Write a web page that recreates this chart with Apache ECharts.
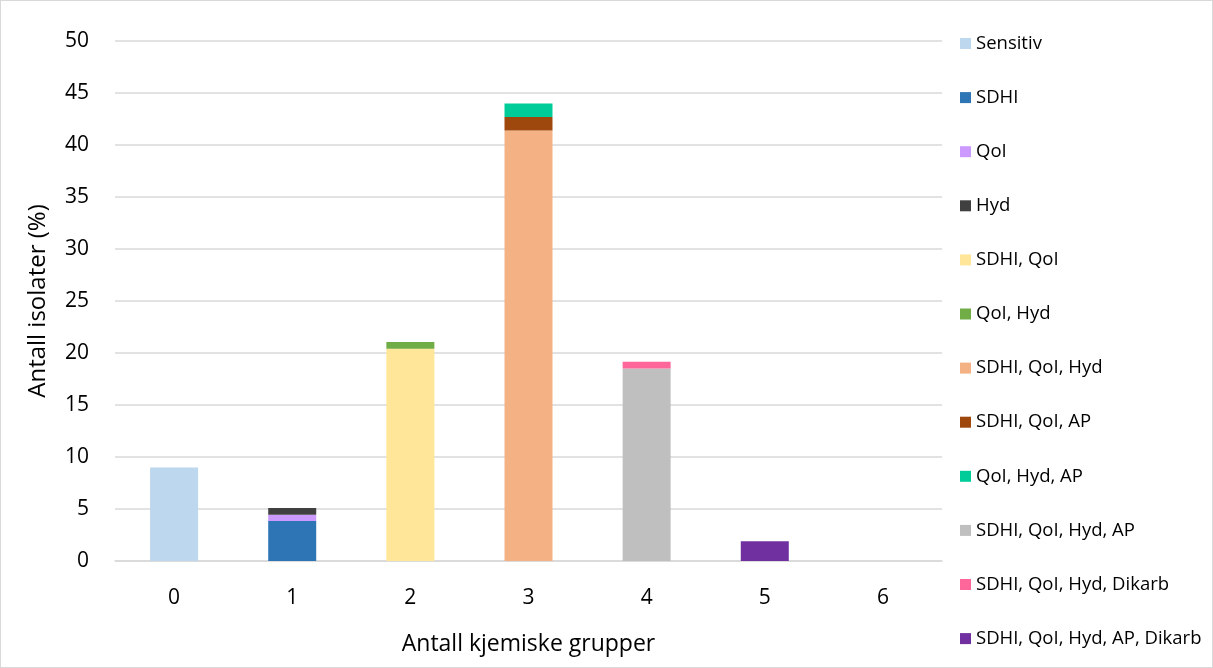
<!DOCTYPE html>
<html><head><meta charset="utf-8">
<script src="https://cdn.jsdelivr.net/npm/echarts@6/dist/echarts.min.js"></script>
<style>html,body{margin:0;padding:0;background:#fff}#c{width:1211px;height:666px;border:1px solid #d9d9d9}</style>
</head><body><div id="c"></div>
<script>
const categories = ['0','1','2','3','4','5','6'];
const seriesNames = ['Sensitiv','SDHI','QoI','Hyd','SDHI, QoI','QoI, Hyd','SDHI, QoI, Hyd','SDHI, QoI, AP','QoI, Hyd, AP','SDHI, QoI, Hyd, AP','SDHI, QoI, Hyd, Dikarb','SDHI, QoI, Hyd, AP, Dikarb'];
const sensitiv      = [9.0, null, null, null, null, null, null];
const sdhi          = [null, 3.85, null, null, null, null, null];
const qoi           = [null, 0.6, null, null, null, null, null];
const hyd           = [null, 0.65, null, null, null, null, null];
const sdhiQoi       = [null, null, 20.4, null, null, null, null];
const qoiHyd        = [null, null, 0.65, null, null, null, null];
const sdhiQoiHyd    = [null, null, null, 41.4, null, null, null];
const sdhiQoiAp     = [null, null, null, 1.3, null, null, null];
const qoiHydAp      = [null, null, null, 1.3, null, null, null];
const sdhiQoiHydAp  = [null, null, null, null, 18.5, null, null];
const sdhiQoiHydDik = [null, null, null, null, 0.65, null, null];
const allFive       = [null, null, null, null, null, 1.9, null];
const seriesData = [sensitiv, sdhi, qoi, hyd, sdhiQoi, qoiHyd, sdhiQoiHyd, sdhiQoiAp, qoiHydAp, sdhiQoiHydAp, sdhiQoiHydDik, allFive];
const colors = ['#bdd7ee','#2e75b6','#cc99ff','#404040','#ffe699','#70ad47','#f4b183','#9e480e','#00cc99','#bfbfbf','#ff6699','#7030a0'];
const yTicks = [0,5,10,15,20,25,30,35,40,45,50];

const chart = echarts.init(document.getElementById('c'));
chart.setOption({
  animation: false,
  textStyle: {fontFamily: 'Open Sans, Liberation Sans, sans-serif'},
  grid: {left: 114, right: 270, top: 40, bottom: 106, containLabel: false},
  xAxis: {
    type: 'category', data: categories,
    name: 'Antall kjemiske grupper', nameLocation: 'middle', nameGap: 72,
    nameTextStyle: {fontSize: 23, color: '#000'},
    axisLine: {lineStyle: {color: '#d9d9d9', width: 1.5}},
    axisTick: {show: false},
    axisLabel: {fontSize: 21, color: '#000', margin: 27}
  },
  yAxis: {
    type: 'value', min: yTicks[0], max: yTicks[yTicks.length-1], interval: 5,
    name: 'Antall isolater (%)', nameLocation: 'middle', nameGap: 65,
    nameTextStyle: {fontSize: 24, color: '#000'},
    axisLine: {show: false}, axisTick: {show: false},
    axisLabel: {fontSize: 21, color: '#000', margin: 26},
    splitLine: {lineStyle: {color: '#d9d9d9', width: 1.5}}
  },
  legend: {
    orient: 'vertical', left: 959, top: 33, padding: 0,
    itemWidth: 11, itemHeight: 11, itemGap: 35.1,
    icon: 'rect',
    textStyle: {fontSize: 18.5, color: '#000', lineHeight: 18, padding: [0,0,0,0]},
    data: seriesNames
  },
  series: seriesNames.map((n, i) => ({
    name: n, type: 'bar', stack: 'total', data: seriesData[i],
    barWidth: 48, itemStyle: {color: colors[i]}
  }))
});
</script></body></html>
